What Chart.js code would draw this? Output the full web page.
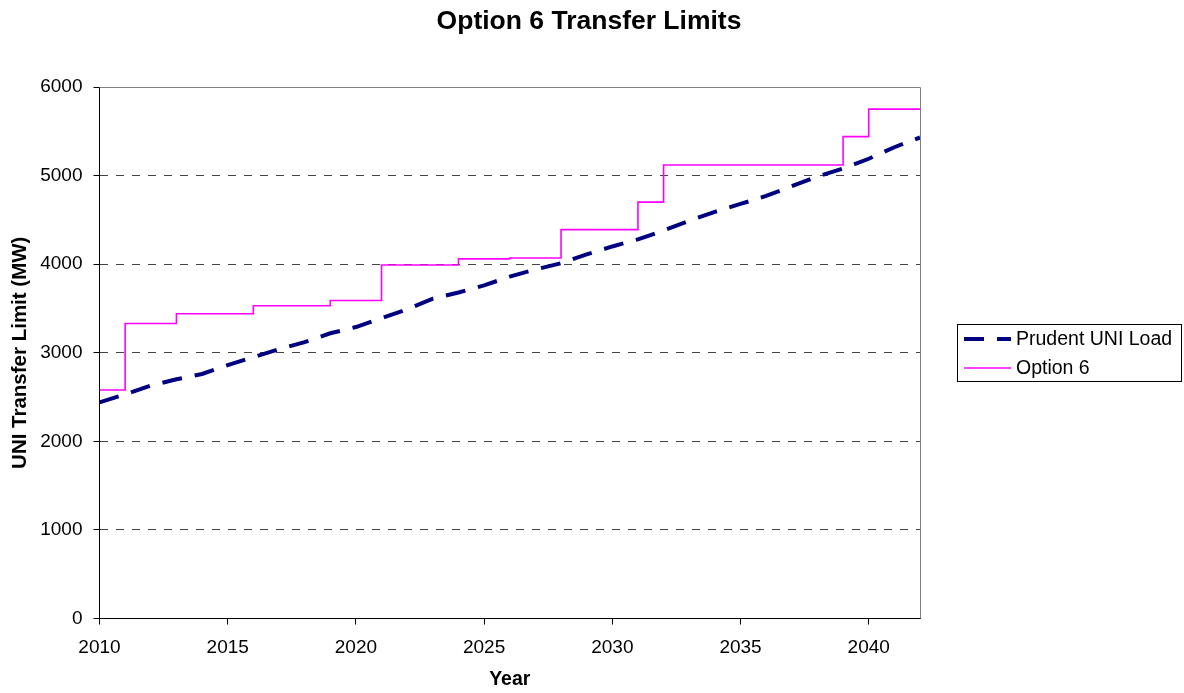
<!DOCTYPE html>
<html>
<head>
<meta charset="utf-8">
<script src="https://cdn.jsdelivr.net/npm/chart.js@4"></script>
<style>
  html, body { margin: 0; padding: 0; background: #fff; }
  #wrap { width: 1184px; height: 693px; }
</style>
</head>
<body>
<div id="wrap"><canvas id="transferChart" width="1184" height="693"></canvas></div>
<script>
// Prudent UNI load, one value per year
const loadYears = [2010, 2011, 2012, 2013, 2014, 2015, 2016, 2017, 2018, 2019, 2020,
	2021, 2022, 2023, 2024, 2025, 2026, 2027, 2028, 2029, 2030,
	2031, 2032, 2033, 2034, 2035, 2036, 2037, 2038, 2039, 2040, 2041, 2042];
const loadValues = [2440, 2530, 2630, 2700, 2760, 2860, 2950, 3040, 3120, 3220, 3290,
	3390, 3490, 3610, 3680, 3760, 3860, 3940, 4010, 4110, 4200,
	4280, 4380, 4490, 4590, 4680, 4770, 4880, 4990, 5080, 5190, 5320, 5430];

// Option 6 limit: year a new limit starts, and the limit
const optionYears = [2010, 2011, 2013, 2016, 2019, 2021, 2024, 2026, 2028, 2031, 2032, 2039, 2040, 2042];
const optionValues = [2580, 3330, 3440, 3530, 3590, 3990, 4060, 4070, 4390, 4700, 5120, 5440, 5750, 5750];

const xTicks = [2010, 2015, 2020, 2025, 2030, 2035, 2040];
const yTicks = [0, 1000, 2000, 3000, 4000, 5000, 6000];

const TITLE = "Option 6 Transfer Limits";
const FONT = "'Liberation Sans', Arial, sans-serif";

const CHART = document.getElementById("transferChart");

// title over the whole canvas, grey top/right frame, boxed legend on the right
const framePlugin = {
	id: 'frame',
	beforeDatasetsDraw(chart) {
		const a = chart.chartArea;
		const ctx = chart.ctx;
		ctx.save();
		ctx.strokeStyle = '#808080';
		ctx.lineWidth = 1;
		ctx.beginPath();
		ctx.moveTo(a.left, Math.round(a.top) + 0.5);
		ctx.lineTo(Math.round(a.right) + 0.5, Math.round(a.top) + 0.5);
		ctx.lineTo(Math.round(a.right) + 0.5, a.bottom);
		ctx.stroke();
		ctx.restore();
	},
	afterDraw(chart) {
		const ctx = chart.ctx;
		const sets = chart.data.datasets;
		ctx.save();
		ctx.fillStyle = '#000';
		ctx.font = "bold 26.5px " + FONT;
		ctx.textAlign = 'center';
		ctx.textBaseline = 'middle';
		ctx.fillText(TITLE, 589, 22);

		const bx = 957.5, by = 324.5, bw = 224, bh = 57;
		ctx.strokeStyle = '#000';
		ctx.lineWidth = 1;
		ctx.strokeRect(bx, by, bw, bh);
		ctx.font = "19.5px " + FONT;
		ctx.textAlign = 'left';
		const rows = [339, 368];
		sets.forEach(function(ds, i) {
			const y = rows[i];
			ctx.beginPath();
			ctx.setLineDash(ds.borderDash || []);
			ctx.strokeStyle = ds.borderColor;
			ctx.lineWidth = ds.borderWidth;
			ctx.moveTo(964, y);
			ctx.lineTo(1011, y);
			ctx.stroke();
			ctx.setLineDash([]);
			ctx.fillText(ds.label, 1016, y + 1);
		});
		ctx.restore();
	}
};

let lineChart = new Chart(CHART, {
	type: 'line',
	data: {
		datasets: [
			{
				label: "Prudent UNI Load",
				data: loadYears.map((yr, i) => ({x: yr, y: loadValues[i]})),
				borderColor: "#000080",
				backgroundColor: "#000080",
				borderWidth: 4,
				borderDash: [20, 13],
				borderCapStyle: 'butt',
				pointRadius: 0,
				tension: 0,
				fill: false
			},
			{
				label: "Option 6",
				data: optionYears.map((yr, i) => ({x: yr, y: optionValues[i]})),
				borderColor: "#FF00FF",
				backgroundColor: "#FF00FF",
				borderWidth: 1.6,
				stepped: true,
				pointRadius: 0,
				fill: false
			}
		]
	},
	options: {
		responsive: false,
		animation: false,
		layout: { padding: { left: 0, right: 264, top: 87, bottom: 0 } },
		plugins: {
			legend: { display: false },
			tooltip: { enabled: false },
			title: { display: false }
		},
		scales: {
			x: {
				type: 'linear',
				min: 2010,
				max: 2042,
				afterBuildTicks: (scale) => { scale.ticks = xTicks.map(v => ({value: v})); },
				afterFit: (scale) => { scale.height = 693 - 618.5; },
				border: { display: true, color: '#000', width: 1 },
				grid: { drawOnChartArea: false, drawTicks: true, tickLength: 6, tickColor: '#000' },
				ticks: {
					color: '#000',
					font: { family: FONT, size: 19 },
					padding: 12,
					maxRotation: 0,
					callback: (v) => String(v)
				},
				title: {
					display: true,
					text: "Year",
					color: '#000',
					font: { family: FONT, size: 19.5, weight: 'bold' },
					padding: { top: 0, bottom: 2 }
				}
			},
			y: {
				min: 0,
				max: 6000,
				afterBuildTicks: (scale) => { scale.ticks = yTicks.map(v => ({value: v})); },
				afterFit: (scale) => { scale.width = 99.5; },
				border: { display: true, color: '#000', width: 1, dash: [8, 8] },
				grid: {
					drawTicks: true,
					tickLength: 6,
					tickColor: '#000',
					tickBorderDash: [],
					color: (c) => (c.tick && c.tick.value > 0 && c.tick.value < 6000) ? '#444' : 'rgba(0,0,0,0)'
				},
				ticks: {
					color: '#000',
					font: { family: FONT, size: 19 },
					padding: 11,
					callback: (v) => String(v)
				},
				title: {
					display: true,
					text: "UNI Transfer Limit (MW)",
					color: '#000',
					font: { family: FONT, size: 20.5, weight: 'bold' },
					padding: { top: 8, bottom: 0 }
				}
			}
		}
	},
	plugins: [framePlugin]
});
</script>
</body>
</html>
